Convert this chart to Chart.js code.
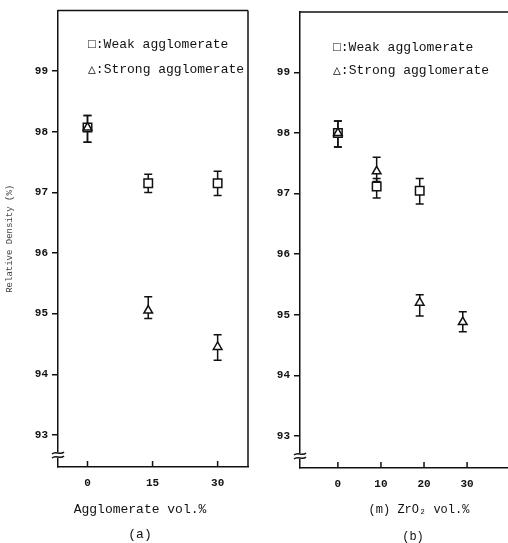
<!DOCTYPE html>
<html>
<head>
<meta charset="utf-8">
<script src="https://cdn.jsdelivr.net/npm/chart.js@4.4.0/dist/chart.umd.min.js"></script>
<style>
  html, body { margin: 0; padding: 0; background: #fff; }
  #wrap { position: relative; width: 508px; height: 543px; overflow: hidden; }
  #cA { position: absolute; left: 0; top: 0; }
  #cB { position: absolute; left: 250px; top: 0; }
</style>
</head>
<body>
<div id="wrap">
  <canvas id="cA" width="250" height="543"></canvas>
  <canvas id="cB" width="258" height="543"></canvas>
</div>
<script>
// (a) agglomerate content
var aggTicks = [0, 15, 30];
var weakAX = [0, 14, 30];
var weakA = [98.07, 97.15, 97.15];
var weakALo = [97.83, 97.0, 96.95];
var weakAHi = [98.27, 97.3, 97.35];
var strongAX = [0, 14, 30];
var strongA = [98.07, 95.05, 94.45];
var strongALo = [97.83, 94.92, 94.23];
var strongAHi = [98.27, 95.28, 94.65];

// (b) ZrO2 content
var zrTicks = [0, 10, 20, 30];
var weakBX = [0, 9, 19];
var weakB = [98.0, 97.12, 97.05];
var weakBLo = [97.77, 96.93, 96.83];
var weakBHi = [98.2, 97.25, 97.25];
var strongBX = [0, 9, 19, 29];
var strongB = [98.0, 97.37, 95.2, 94.88];
var strongBLo = [97.77, 97.2, 94.98, 94.72];
var strongBHi = [98.2, 97.6, 95.33, 95.05];

var densityTicks = [93, 94, 95, 96, 97, 98, 99];

var MONO = "'Liberation Mono', 'DejaVu Sans Mono', monospace";
var INK = '#111';

function pts(xs, ys) {
    return xs.map(function (x, i) { return { x: x, y: ys[i] }; });
}

// error bars, drawn under the hollow markers
var errorBars = {
    id: 'errorBars',
    beforeDatasetsDraw: function (chart) {
        var ctx = chart.ctx, xs = chart.scales.x, ys = chart.scales.y;
        ctx.save();
        ctx.strokeStyle = INK;
        ctx.lineWidth = 1.5;
        chart.data.datasets.forEach(function (ds) {
            ds.data.forEach(function (p, i) {
                var px = xs.getPixelForValue(p.x);
                var top = ys.getPixelForValue(ds.hi[i]);
                var bot = ys.getPixelForValue(ds.lo[i]);
                ctx.beginPath();
                ctx.moveTo(px, top); ctx.lineTo(px, bot);
                ctx.moveTo(px - 4, top); ctx.lineTo(px + 4, top);
                ctx.moveTo(px - 4, bot); ctx.lineTo(px + 4, bot);
                ctx.stroke();
            });
        });
        ctx.restore();
    }
};

// frame, inward x ticks, axis break, legend and x titles
var frame = {
    id: 'frame',
    afterDraw: function (chart, args, opts) {
        var ctx = chart.ctx, a = chart.chartArea, xs = chart.scales.x;
        ctx.save();
        ctx.strokeStyle = INK;
        ctx.lineWidth = 1.5;
        ctx.beginPath();
        ctx.moveTo(a.left, a.top); ctx.lineTo(a.right, a.top);
        if (opts.right) { ctx.moveTo(a.right, a.top); ctx.lineTo(a.right, a.bottom); }
        xs.ticks.forEach(function (t) {
            var px = xs.getPixelForValue(t.value);
            ctx.moveTo(px, a.bottom); ctx.lineTo(px, a.bottom - 6);
        });
        ctx.stroke();

        // axis break
        var by = a.bottom - 12;
        ctx.fillStyle = '#fff';
        ctx.fillRect(a.left - 2, by - 3, 4, 6);
        ctx.beginPath();
        [-2, 2].forEach(function (d) {
            ctx.moveTo(a.left - 6, by + d + 1);
            ctx.bezierCurveTo(a.left - 2, by + d - 3, a.left + 2, by + d + 3, a.left + 6, by + d - 1);
        });
        ctx.stroke();

        ctx.fillStyle = INK;
        ctx.textBaseline = 'middle';
        ctx.font = '13px ' + MONO;
        opts.legend.forEach(function (row) {
            ctx.fillText(row.text, a.left + row.dx, row.y);
        });
        ctx.textAlign = 'center';
        ctx.font = opts.titleSize + 'px ' + MONO;
        opts.titles.forEach(function (row) {
            ctx.fillText(row.text, row.x, row.y);
        });
        ctx.restore();
    }
};

function makeChart(id, cfg) {
    var datasets = [
        {
            label: 'Weak agglomerate', data: pts(cfg.weakX, cfg.weak),
            lo: cfg.weakLo, hi: cfg.weakHi, order: 1,
            pointStyle: 'rect', pointRadius: 6, borderColor: INK,
            backgroundColor: '#fff', pointBorderWidth: 1.5
        },
        {
            label: 'Strong agglomerate', data: pts(cfg.strongX, cfg.strong),
            lo: cfg.strongLo, hi: cfg.strongHi, order: 0,
            pointStyle: 'triangle', pointRadius: 5, borderColor: INK,
            backgroundColor: '#fff', pointBorderWidth: 1.5
        }
    ];
    return new Chart(document.getElementById(id), {
        type: 'scatter',
        data: { datasets: datasets },
        options: {
            responsive: false,
            animation: false,
            layout: { autoPadding: false, padding: { top: cfg.top, right: cfg.right, left: 0, bottom: 0 } },
            plugins: {
                legend: { display: false },
                tooltip: { enabled: false },
                frame: { right: cfg.frameRight, legend: cfg.legend, titles: cfg.titles, titleSize: cfg.titleSize }
            },
            scales: {
                x: {
                    type: 'linear', min: cfg.xMin, max: cfg.xMax,
                    afterBuildTicks: function (s) { s.ticks = cfg.xTicks.map(function (v) { return { value: v }; }); },
                    afterFit: function (s) { s.height = cfg.xHeight; s.paddingLeft = 0; s.paddingRight = 0; },
                    grid: { display: false, drawTicks: false },
                    border: { display: true, color: INK, width: 1.5 },
                    ticks: { color: INK, padding: 10, font: { family: MONO, size: 11, weight: 'bold' } }
                },
                y: {
                    type: 'linear', min: 92.47, max: 100,
                    afterBuildTicks: function (s) { s.ticks = densityTicks.map(function (v) { return { value: v }; }); },
                    afterFit: function (s) { s.width = cfg.yWidth; },
                    grid: { drawOnChartArea: false, drawTicks: true, tickLength: 6, color: INK, lineWidth: 1.5 },
                    border: { display: true, color: INK, width: 1.5 },
                    ticks: { color: INK, padding: 4, font: { family: MONO, size: 11, weight: 'bold' } },
                    title: {
                        display: cfg.yTitle !== '', text: cfg.yTitle, color: '#444',
                        font: { family: MONO, size: 9 }, padding: { top: 4, bottom: 0 }
                    }
                }
            }
        },
        plugins: [errorBars, frame]
    });
}

makeChart('cA', {
    weakX: weakAX, weak: weakA, weakLo: weakALo, weakHi: weakAHi,
    strongX: strongAX, strong: strongA, strongLo: strongALo, strongHi: strongAHi,
    xTicks: aggTicks, xMin: -6.8, xMax: 37,
    yTitle: 'Relative Density (%)',
    top: 10, right: 2, xHeight: 76, yWidth: 58, frameRight: true,
    titleSize: 13,
    titles: [
        { text: 'Agglomerate vol.%', x: 140, y: 510 },
        { text: '(a)', x: 140, y: 535 }
    ],
    legend: [
        { text: '\u25A1:Weak agglomerate', dx: 30, y: 45 },
        { text: '\u25B3:Strong agglomerate', dx: 30, y: 70 }
    ]
});

makeChart('cB', {
    weakX: weakBX, weak: weakB, weakLo: weakBLo, weakHi: weakBHi,
    strongX: strongBX, strong: strongB, strongLo: strongBLo, strongHi: strongBHi,
    xTicks: zrTicks, xMin: -8.8, xMax: 39.5,
    yTitle: '',
    top: 12, right: 0, xHeight: 75, yWidth: 50, frameRight: false,
    titleSize: 12,
    titles: [
        { text: '(m) ZrO\u2082 vol.%', x: 169, y: 510 },
        { text: '(b)', x: 163, y: 537 }
    ],
    legend: [
        { text: '\u25A1:Weak agglomerate', dx: 33, y: 48 },
        { text: '\u25B3:Strong agglomerate', dx: 33, y: 71 }
    ]
});
</script>
</body>
</html>
